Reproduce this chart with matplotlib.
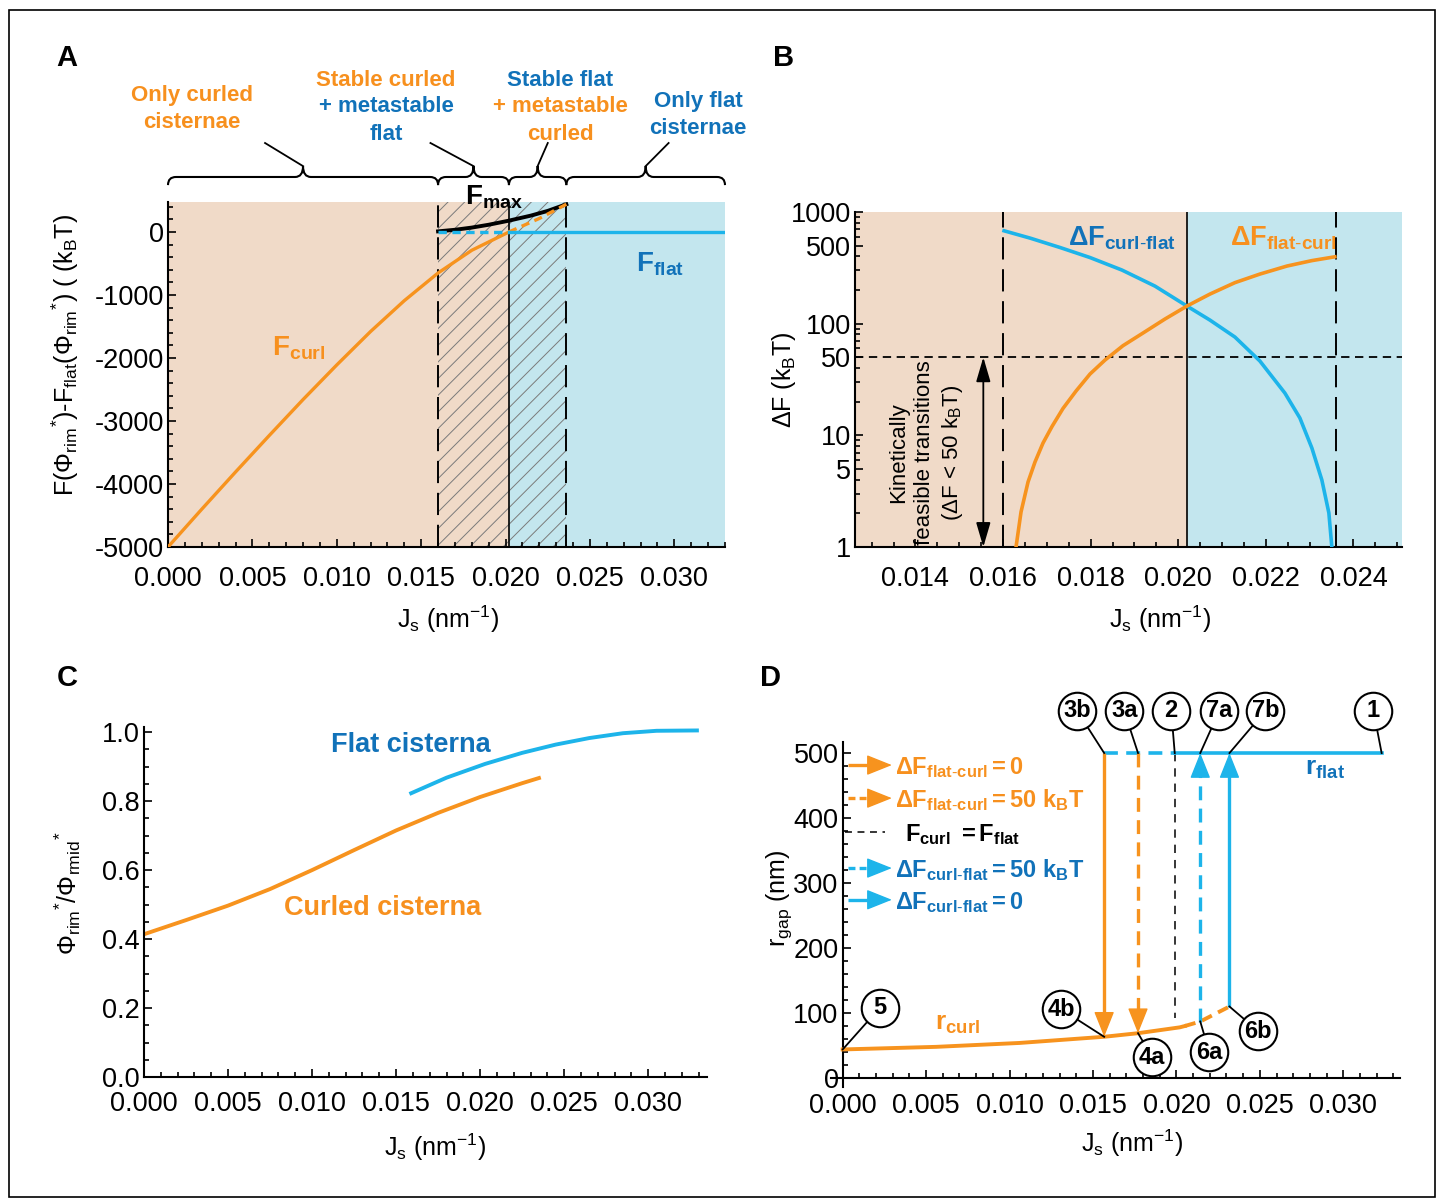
import matplotlib
matplotlib.use('Agg')
import matplotlib.pyplot as plt
import matplotlib.transforms as mtransforms
from matplotlib.path import Path
from matplotlib.patches import PathPatch, Rectangle
from matplotlib.ticker import MultipleLocator, FixedLocator, NullFormatter, FormatStrFormatter

plt.rcParams['font.family'] = ['Liberation Sans', 'DejaVu Sans']
plt.rcParams['mathtext.fontset'] = 'custom'
plt.rcParams['mathtext.rm'] = 'Liberation Sans'
plt.rcParams['mathtext.it'] = 'Liberation Sans:italic'
plt.rcParams['mathtext.bf'] = 'Liberation Sans:bold'
plt.rcParams['axes.unicode_minus'] = False
plt.rcParams['lines.scale_dashes'] = False
plt.rcParams['hatch.linewidth'] = 0.7

ORANGE = '#F7931E'
BLUE = '#1DB4EA'
ORANGE_TXT = '#F7901E'
BLUE_TXT = '#1172B9'
TAN = '#F0DAC8'
LBLUE = '#C3E6EE'

# ---- data ----
# phase boundaries (nm^-1)
J_lo, J_eq, J_hi = 0.0160, 0.0202, 0.0236

# panel A: free energy difference (kBT)
a_J_curl = [0.0, 0.002, 0.004, 0.006, 0.008, 0.010, 0.012, 0.014, 0.016, 0.018, 0.0202]
a_F_curl = [-5000, -4400, -3810, -3230, -2660, -2110, -1580, -1090, -651, -290, 0]
a_J_curl_meta = [0.0202, 0.022, 0.0236]
a_F_curl_meta = [0, 215, 440]
a_J_max = [0.016, 0.017, 0.018, 0.019, 0.0202, 0.0215, 0.0225, 0.0236]
a_F_max = [10, 35, 70, 115, 180, 260, 335, 440]
a_J_flat_meta = [0.016, 0.0202]
a_J_flat = [0.0202, 0.0330]
a_F_flat = [0, 0]

# panel B: barriers (kBT)
b_J_cf = [0.016023, 0.016616, 0.017301, 0.017986, 0.018716, 0.019469, 0.020199, 0.020724,
          0.021295, 0.021865, 0.022436, 0.022778, 0.023052, 0.023280, 0.023440, 0.023508]
b_dF_cf = [678.8, 584, 481, 391, 302, 217, 143.8, 107.7, 75.9, 46.3, 23.9, 14.3, 7.7, 3.98, 2.02, 1.0]
b_J_fc = [0.016297, 0.016411, 0.016571, 0.016730, 0.016913, 0.017118, 0.017369, 0.017666, 0.017986,
          0.018328, 0.018739, 0.019195, 0.019697, 0.020199, 0.020724, 0.021295, 0.021865, 0.022482,
          0.023052, 0.023577]
b_dF_fc = [1.0, 2.06, 3.82, 5.77, 8.53, 11.99, 17.4, 24.9, 35.4, 47.2, 63.5, 82.4, 110, 143.8,
           184, 233, 278, 328, 367, 397]
b_threshold = 50
b_J_arrow = 0.01555

# panel C: rim / mid ratio
c_J_curl = [0.0, 0.0025, 0.005, 0.0075, 0.010, 0.0125, 0.015, 0.0175, 0.020, 0.0225, 0.0235]
c_phi_curl = [0.414, 0.455, 0.497, 0.545, 0.600, 0.658, 0.715, 0.766, 0.812, 0.852, 0.867]
c_J_flat = [0.0159, 0.018, 0.0203, 0.0225, 0.0245, 0.0265, 0.0285, 0.0305, 0.0329]
c_phi_flat = [0.823, 0.868, 0.908, 0.940, 0.964, 0.983, 0.997, 1.004, 1.005]

# panel D: r_gap (nm)
d_J_curl = [0.0, 0.0056, 0.0106, 0.01567, 0.0177, 0.0202, 0.0205]
d_r_curl = [44, 48, 54, 63.5, 69, 78, 80]
d_J_curl_meta = [0.0205, 0.02143, 0.02318]
d_r_curl_meta = [80, 87, 110]
d_r_flat = 500
d_J_3b, d_J_3a, d_J_2, d_J_7a, d_J_7b, d_J_end = 0.01567, 0.0177, 0.0199, 0.02143, 0.02318, 0.0323

W, H = 1439, 1199
fig = plt.figure(figsize=(W / 100, H / 100), dpi=100)


def box(l, t, r, b):
    return [l / W, 1 - b / H, (r - l) / W, (b - t) / H]


def fx(px):
    return px / W


def fy(py):
    return 1 - py / H


def style(ax, xpad):
    for s in ['top', 'right']:
        ax.spines[s].set_visible(False)
    for s in ['left', 'bottom']:
        ax.spines[s].set_linewidth(1.5)
    ax.tick_params(which='both', direction='in', width=1.2, labelsize=19.5)
    ax.tick_params(which='major', length=6)
    ax.tick_params(which='minor', length=3.5)
    ax.tick_params(axis='x', pad=xpad)
    ax.tick_params(axis='y', pad=3)


def brace(ax, x0, x1, r, y_end=1.049, y_mid=1.0725, y_tip=1.104):
    tr = mtransforms.blended_transform_factory(ax.transData, ax.transAxes)
    xc = (x0 + x1) / 2
    verts = [(x0, y_end), (x0, y_mid), (x0 + r, y_mid), (xc - r, y_mid), (xc, y_mid), (xc, y_tip),
             (xc, y_mid), (xc + r, y_mid), (x1 - r, y_mid), (x1, y_mid), (x1, y_end)]
    codes = [Path.MOVETO, Path.CURVE3, Path.CURVE3, Path.LINETO, Path.CURVE3, Path.CURVE3,
             Path.CURVE3, Path.CURVE3, Path.LINETO, Path.CURVE3, Path.CURVE3]
    ax.add_patch(PathPatch(Path(verts, codes), fill=False, lw=1.5, edgecolor='black',
                           transform=tr, clip_on=False))
    return xc, tr


def head(ax, xy, xytext, color, transform=None):
    kw = dict(arrowstyle='-|>,head_length=0.8,head_width=0.32', color=color, lw=1,
              shrinkA=0, shrinkB=0, mutation_scale=20)
    if transform is None:
        ax.annotate('', xy=xy, xytext=xytext, arrowprops=kw, annotation_clip=False)
    else:
        ax.annotate('', xy=xy, xytext=xytext, xycoords=transform, textcoords=transform,
                    arrowprops=kw, annotation_clip=False)


# ================= Panel A =================
axA = fig.add_axes(box(168, 202, 725, 547))
style(axA, 14)
axA.set_xlim(0, 0.0330)
axA.set_ylim(-5000, 476)
axA.axvspan(0, J_eq, color=TAN, lw=0, zorder=0)
axA.axvspan(J_eq, 0.0330, color=LBLUE, lw=0, zorder=0)
axA.add_patch(Rectangle((J_lo, -5000), J_hi - J_lo, 5476, fill=False, hatch='//',
                        edgecolor='#7a7a7a', lw=0, zorder=0.5))
for xv in (J_lo, J_hi):
    axA.axvline(xv, color='black', lw=1.4, ls=(0, (16, 7)), zorder=1)
axA.axvline(J_eq, color='black', lw=1.2, zorder=1)
axA.plot(a_J_max, a_F_max, color='black', lw=2.8, zorder=2)
axA.plot(a_J_curl, a_F_curl, color=ORANGE, lw=2.4, zorder=3)
axA.plot(a_J_curl_meta, a_F_curl_meta, color=ORANGE, lw=2.4, ls=(0, (6, 4)), zorder=3)
axA.plot(a_J_flat_meta, a_F_flat, color=BLUE, lw=2.4, ls=(0, (6, 4)), zorder=3)
axA.plot(a_J_flat, a_F_flat, color=BLUE, lw=2.4, zorder=3)
axA.xaxis.set_major_locator(MultipleLocator(0.005))
axA.xaxis.set_minor_locator(MultipleLocator(0.001))
axA.xaxis.set_major_formatter(FormatStrFormatter('%.3f'))
axA.yaxis.set_major_locator(FixedLocator([-5000, -4000, -3000, -2000, -1000, 0]))
axA.yaxis.set_minor_locator(MultipleLocator(200))
axA.set_xlabel(r'J$_{\mathrm{s}}$ (nm$^{\mathrm{-1}}$)', fontsize=18, va='center')
axA.xaxis.set_label_coords(0.503, -0.21)
axA.set_ylabel(r'F(Φ$_{\mathrm{rim}}{}^{*}$)-F$_{\mathrm{flat}}$(Φ$_{\mathrm{rim}}{}^{*}$) ( (k$_{\mathrm{B}}$T)',
               fontsize=18, va='center')
axA.yaxis.set_label_coords(-0.185, 0.557)
axA.text(0.01761, 429, r'$\mathbf{F_{max}}$', fontsize=20, color='black', zorder=5)
axA.text(0.02775, -635, r'$\mathbf{F_{flat}}$', fontsize=20, color=BLUE_TXT, zorder=5)
axA.text(0.00617, -1968, r'$\mathbf{F_{curl}}$', fontsize=20, color=ORANGE_TXT, zorder=5)

# braces above panel A
spans = [(0.0, J_lo), (J_lo, J_eq), (J_eq, J_hi), (J_hi, 0.0330)]
leader_dx = [-0.00225, -0.00255, 0.0006, 0.00136]
for (x0, x1), dx in zip(spans, leader_dx):
    xc, tr = brace(axA, x0, x1, 0.00047)
    axA.plot([xc, xc + dx], [1.104, 1.171], color='black', lw=1.3, transform=tr, clip_on=False)

brace_labels = [
    (192, [(96, 'Only curled', ORANGE_TXT), (123, 'cisternae', ORANGE_TXT)]),
    (386, [(80, 'Stable curled', ORANGE_TXT), (107, '+ metastable', BLUE_TXT), (135, 'flat', BLUE_TXT)]),
    (560, [(80, 'Stable flat', BLUE_TXT), (107, '+ metastable', ORANGE_TXT), (135, 'curled', ORANGE_TXT)]),
    (698, [(101, 'Only flat', BLUE_TXT), (128, 'cisternae', BLUE_TXT)]),
]
for cx, lines in brace_labels:
    for py, txt, col in lines:
        fig.text(fx(cx), fy(py), txt, ha='center', va='center', fontsize=16,
                 fontweight='bold', color=col)

# ================= Panel B =================
axB = fig.add_axes(box(855, 212, 1402, 547))
style(axB, 14)
axB.set_yscale('log')
axB.set_xlim(0.01262, 0.02511)
axB.set_ylim(1, 1000)
axB.axvspan(0.01262, J_eq, color=TAN, lw=0, zorder=0)
axB.axvspan(J_eq, 0.02511, color=LBLUE, lw=0, zorder=0)
for xv in (J_lo, J_hi):
    axB.axvline(xv, color='black', lw=1.4, ls=(0, (16, 7)), zorder=1)
axB.axvline(J_eq, color='black', lw=1.2, zorder=1)
axB.axhline(b_threshold, color='black', lw=1.3, ls=(0, (6, 4)), zorder=1)
axB.plot(b_J_cf, b_dF_cf, color=BLUE, lw=2.6, zorder=3)
axB.plot(b_J_fc, b_dF_fc, color=ORANGE, lw=2.6, zorder=3)
axB.annotate('', xy=(b_J_arrow, 1), xytext=(b_J_arrow, b_threshold),
             arrowprops=dict(arrowstyle='<|-|>,head_length=0.75,head_width=0.22', color='black',
                             lw=1.3, shrinkA=0, shrinkB=0, mutation_scale=20))
axB.text(0.01425, 6.94, 'Kinetically\nfeasible transitions\n(ΔF < 50 k$_{\\mathrm{B}}$T)',
         rotation=90, ha='center', va='center', fontsize=16, linespacing=1.3, zorder=4)
axB.text(0.01748, 505, r'$\mathbf{\Delta F_{curl\text{-}flat}}$', fontsize=19.5, color=BLUE_TXT, zorder=5)
axB.text(0.02118, 505, r'$\mathbf{\Delta F_{flat\text{-}curl}}$', fontsize=19.5, color=ORANGE_TXT, zorder=5)
axB.yaxis.set_major_locator(FixedLocator([1, 5, 10, 50, 100, 500, 1000]))
axB.yaxis.set_major_formatter(FormatStrFormatter('%d'))
axB.yaxis.set_minor_locator(FixedLocator([m * 10 ** k for k in range(3) for m in (2, 3, 4, 6, 7, 8, 9)]))
axB.yaxis.set_minor_formatter(NullFormatter())
axB.xaxis.set_major_locator(MultipleLocator(0.002))
axB.xaxis.set_minor_locator(MultipleLocator(0.0005))
axB.xaxis.set_major_formatter(FormatStrFormatter('%.3f'))
axB.set_xlabel(r'J$_{\mathrm{s}}$ (nm$^{\mathrm{-1}}$)', fontsize=18, va='center')
axB.xaxis.set_label_coords(0.558, -0.215)
axB.set_ylabel(r'ΔF (k$_{\mathrm{B}}$T)', fontsize=18, va='center')
axB.yaxis.set_label_coords(-0.13, 0.5)

# ================= Panel C =================
axC = fig.add_axes(box(144, 727, 707, 1077))
style(axC, 10)
axC.set_xlim(0, 0.0335)
axC.set_ylim(0, 1.015)
axC.plot(c_J_curl, c_phi_curl, color=ORANGE, lw=2.8)
axC.plot(c_J_flat, c_phi_flat, color=BLUE, lw=2.8)
axC.text(0.0159, 0.962, 'Flat cisterna', ha='center', va='center', fontsize=19.5,
         fontweight='bold', color=BLUE_TXT)
axC.text(0.01417, 0.49, 'Curled cisterna', ha='center', va='center', fontsize=19.5,
         fontweight='bold', color=ORANGE_TXT)
axC.xaxis.set_major_locator(MultipleLocator(0.005))
axC.xaxis.set_minor_locator(MultipleLocator(0.001))
axC.xaxis.set_major_formatter(FormatStrFormatter('%.3f'))
axC.yaxis.set_major_locator(MultipleLocator(0.2))
axC.yaxis.set_minor_locator(MultipleLocator(0.05))
axC.yaxis.set_major_formatter(FormatStrFormatter('%.1f'))
axC.set_xlabel(r'J$_{\mathrm{s}}$ (nm$^{\mathrm{-1}}$)', fontsize=18, va='center')
axC.xaxis.set_label_coords(0.517, -0.2)
axC.set_ylabel(r'Φ$_{\mathrm{rim}}{}^{*}$/Φ$_{\mathrm{rmid}}{}^{*}$', fontsize=18, va='center')
axC.yaxis.set_label_coords(-0.135, 0.526)

# ================= Panel D =================
axD = fig.add_axes(box(831, 742, 1400, 1086.5))
style(axD, 11)
axD.set_xlim(-0.0007, 0.0334)
axD.set_ylim(-13, 517)
axD.spines['left'].set_position(('data', 0))
axD.spines['bottom'].set_position(('data', 0))
axD.plot(d_J_curl, d_r_curl, color=ORANGE, lw=2.8, zorder=3)
axD.plot(d_J_curl_meta, d_r_curl_meta, color=ORANGE, lw=2.8, ls=(0, (8, 5)), zorder=3)
axD.plot([d_J_3b, d_J_2], [d_r_flat, d_r_flat], color=BLUE, lw=2.6, ls=(0, (10, 6)), zorder=3)
axD.plot([d_J_2, d_J_end], [d_r_flat, d_r_flat], color=BLUE, lw=2.6, zorder=3)
axD.plot([d_J_2, d_J_2], [d_r_flat, 92], color='black', lw=1.1, ls=(0, (6, 5)), zorder=2)


def varrow(x, y0, y1, color, ls):
    step = 30 if y1 > y0 else -30
    axD.plot([x, x], [y0, y1 - step], color=color, lw=2.4, ls=ls, solid_capstyle='butt', zorder=3)
    head(axD, (x, y1), (x, y1 - step * 1.05), color)


varrow(d_J_3b, d_r_flat, d_r_curl[3], ORANGE, '-')
varrow(d_J_3a, d_r_flat, d_r_curl[4], ORANGE, (0, (10, 6)))
varrow(d_J_7a, d_r_curl_meta[1], d_r_flat, BLUE, (0, (10, 6)))
varrow(d_J_7b, d_r_curl_meta[2], d_r_flat, BLUE, '-')

# circled markers: label, circle position, target point
circles = [
    ('1', (0.03181, 565), (d_J_end, d_r_flat)),
    ('7b', (0.02533, 565), (d_J_7b, d_r_flat)),
    ('7a', (0.02257, 565), (d_J_7a, d_r_flat)),
    ('2', (0.01969, 565), (d_J_2, d_r_flat)),
    ('3a', (0.01687, 565), (d_J_3a, d_r_flat)),
    ('3b', (0.01405, 565), (d_J_3b, d_r_flat)),
    ('5', (0.00222, 108), (d_J_curl[0], d_r_curl[0])),
    ('4b', (0.01309, 106), (d_J_3b, d_r_curl[3])),
    ('4a', (0.01855, 32), (d_J_3a, d_r_curl[4])),
    ('6a', (0.02197, 40), (d_J_7a, d_r_curl_meta[1])),
    ('6b', (0.02491, 72), (d_J_7b, d_r_curl_meta[2])),
]
for lab, (cx, cy), (tx, ty) in circles:
    axD.plot([cx, tx], [cy, ty], color='black', lw=1.3, zorder=4, clip_on=False)
    axD.plot(cx, cy, 'o', ms=27, mfc='white', mec='black', mew=1.5, zorder=5, clip_on=False)
    axD.text(cx, cy, lab, ha='center', va='center', fontsize=17, fontweight='bold', zorder=6)

axD.text(0.02773, 466, r'$\mathbf{r_{flat}}$', fontsize=19, color=BLUE_TXT, zorder=5)
axD.text(0.00552, 74, r'$\mathbf{r_{curl}}$', fontsize=19, color=ORANGE_TXT, zorder=5)

# legend keys inside panel D
legend_rows = [
    (0.933, ORANGE, '-', r'$\mathbf{\Delta F_{flat\text{-}curl}= 0}$', ORANGE_TXT, True),
    (0.837, ORANGE, (0, (5, 3)), r'$\mathbf{\Delta F_{flat\text{-}curl}= 50\ k_BT}$', ORANGE_TXT, True),
    (0.739, 'black', (0, (5, 4)), r'$\mathbf{F_{curl}\ =F_{flat}}$', 'black', False),
    (0.634, BLUE, (0, (5, 3)), r'$\mathbf{\Delta F_{curl\text{-}flat}= 50\ k_BT}$', BLUE_TXT, True),
    (0.542, BLUE, '-', r'$\mathbf{\Delta F_{curl\text{-}flat}= 0}$', BLUE_TXT, True),
]
for ry, col, ls, txt, tcol, arrow in legend_rows:
    if arrow:
        axD.plot([0.0299, 0.070], [ry, ry], color=col, lw=2.4, ls=ls, transform=axD.transAxes,
                 solid_capstyle='butt', clip_on=False)
        head(axD, (0.107, ry), (0.068, ry), col, transform=axD.transAxes)
        tx = 0.1125
    else:
        axD.plot([0.0246, 0.0949], [ry, ry], color=col, lw=1.1, ls=ls, transform=axD.transAxes,
                 clip_on=False)
        tx = 0.130
    axD.text(tx, ry - 0.026, txt, fontsize=17, color=tcol, ha='left', va='baseline',
             transform=axD.transAxes)

axD.xaxis.set_major_locator(MultipleLocator(0.005))
axD.xaxis.set_minor_locator(MultipleLocator(0.001))
axD.xaxis.set_major_formatter(FormatStrFormatter('%.3f'))
axD.yaxis.set_major_locator(MultipleLocator(100))
axD.yaxis.set_minor_locator(MultipleLocator(20))
axD.set_xlabel(r'J$_{\mathrm{s}}$ (nm$^{\mathrm{-1}}$)', fontsize=18, va='center')
axD.xaxis.set_label_coords(0.529, -0.165)
axD.set_ylabel(r'r$_{\mathrm{gap}}$ (nm)', fontsize=18, va='center')
axD.yaxis.set_label_coords(-0.092, 0.547)

# panel letters and frame
for lab, px, py in [('A', 67, 58), ('B', 784, 58), ('C', 67, 678), ('D', 771, 678)]:
    fig.text(fx(px), fy(py), lab, ha='center', va='center', fontsize=21, fontweight='bold')
fig.add_artist(Rectangle((fx(9), fy(1197)), 1426 / W, 1187 / H, transform=fig.transFigure,
                         fill=False, lw=1.2, edgecolor='black'))

fig.savefig('out.png', dpi=100)
